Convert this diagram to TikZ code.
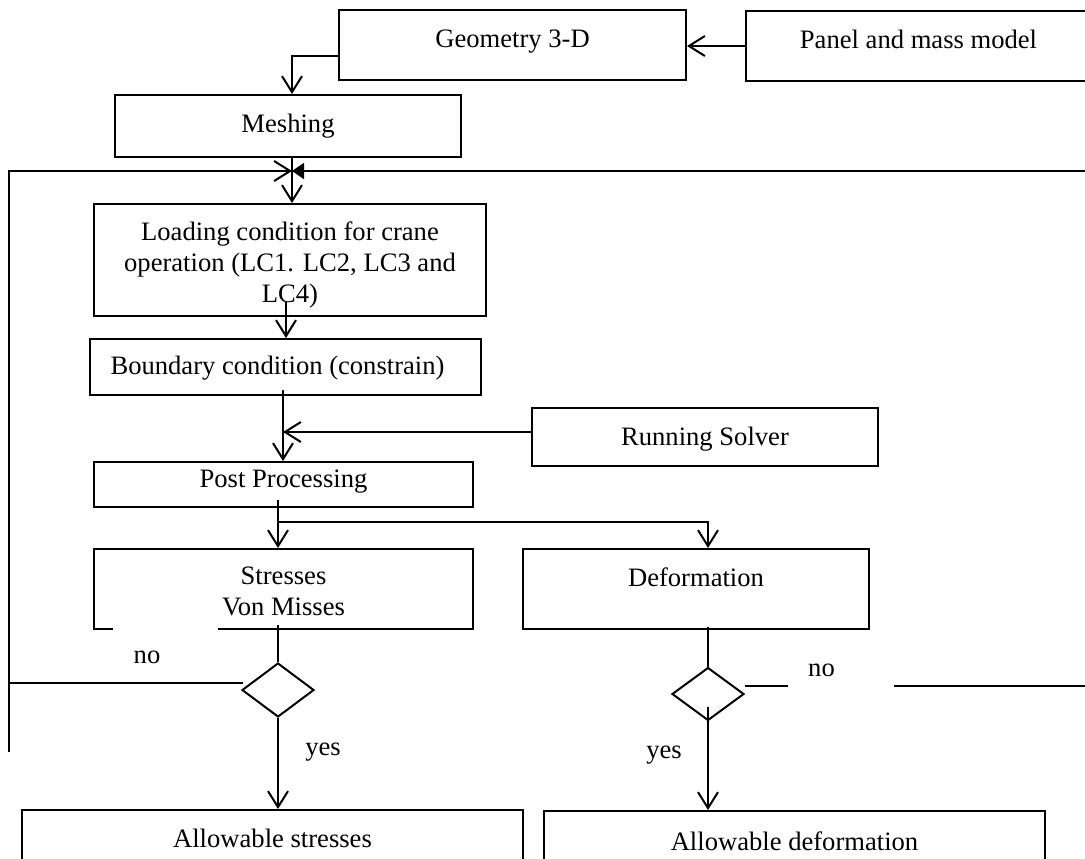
\documentclass[tikz,border=0pt]{standalone}
\usepackage{fontspec}
\setmainfont{Liberation Serif}
\usetikzlibrary{arrows.meta,shapes.geometric,calc}
\newcommand\stackedtext[2]{\raisebox{#1}[\height][\depth]{\begin{tabular}{@{}c@{}}#2\end{tabular}}}
\begin{document}
\begin{tikzpicture}[x=0.5pt,y=-0.5pt,
  every node/.style={font=\fontsize{13.3pt}{15.5pt}\selectfont},
  box/.style={draw, line width=1pt, rectangle, inner sep=0pt, align=center},
  one/.style={text height=8.8pt, text depth=2.9pt},
  dia/.style={draw, line width=1pt, diamond, inner sep=0pt},
  conn/.style={line width=1pt},
  arr/.style={conn, -{Straight Barb[length=8pt,width=10pt]}},
  tri/.style={conn, -{Triangle[length=6pt,width=8pt]}},
  lbl/.style={inner sep=0pt}]
\useasboundingbox (0,0) rectangle (1085,858);
\clip (0,0) rectangle (1085,858);

% boxes
\node[box,one,text depth=6.3pt,minimum width=173.5pt,minimum height=35pt] (geo) at (512.5,45) {Geometry 3-D};
\node[box,one,text depth=6.8pt,minimum width=172.5pt,minimum height=35pt] (panel) at (918.5,46) {Panel and mass model};
\node[box,one,text depth=2.8pt,minimum width=173pt,minimum height=31pt] (mesh) at (288,126) {Meshing};
\node[box,minimum width=196pt,minimum height=56pt] (load) at (290,260) {\stackedtext{-2.4pt}{Loading condition for crane\\operation (LC1. LC2, LC3 and\\LC4)}};
\node[box,one,text depth=1.3pt,minimum width=195.5pt,minimum height=28pt] (bound) at (285.5,367) {Boundary condition (constrain)\hspace*{8pt}};
\node[box,one,text depth=0.3pt,minimum width=173pt,minimum height=29pt] (solver) at (705,437) {Running Solver};
\node[box,one,text depth=6.3pt,minimum width=189.5pt,minimum height=22.5pt] (post) at (283.5,484.5) {Post Processing};
\node[box,minimum width=189.5pt,minimum height=40pt] (stress) at (283.5,589) {\stackedtext{-2.15pt}{Stresses\\Von Misses}};
\node[box,one,text depth=11.4pt,minimum width=173pt,minimum height=40pt] (deform) at (696,589) {Deformation};
\node[dia,minimum width=36pt,minimum height=27pt] (dS) at (278,690) {};
\node[dia,minimum width=36pt,minimum height=26.5pt] (dD) at (708,694) {};
\node[box,one,text depth=6.8pt,minimum width=250.5pt,minimum height=35pt] (allowS) at (272.5,845) {Allowable stresses};
\node[box,one,text depth=4.2pt,minimum width=250.5pt,minimum height=35pt] (allowD) at (794.5,846) {Allowable deformation};

% gap in the bottom edge of the stresses box
\draw[white, line width=2pt] ($(stress.south west)+(20,0)$) -- ($(stress.south west)+(125,0)$);

% labels
\node[lbl] (no1) at (147,657) {no};
\node[lbl] (no2) at (821.5,670.5) {no};
\node[lbl] (yes1) at (323,752) {yes};
\node[lbl] (yes2) at (664,755) {yes};

% coordinates
\coordinate (j) at (292,171);
\coordinate (lt) at (9,171);
\coordinate (lb) at (9,752);
\coordinate (nl) at (9,683);
\coordinate (rt) at (1090,171);
\coordinate (nr1) at (788,686);
\coordinate (nr2) at (894,686);
\coordinate (nr3) at (1090,686);

% connectors
\draw[arr] (panel.west) -- (panel.west -| geo.east);
\draw[arr] ($(geo.west)+(0,11)$) -| ($(mesh.north)+(4,0)$);
\draw[arr] (mesh.south -| j) -- (load.north -| j);
\draw[arr] (lb) -- (lt) -- (j);
\draw[tri] (rt) -- (j);
\path ($(load.south)+(-4,-15)$) coordinate (a1);
\draw[arr] (a1) -- (a1 |- bound.north);
\path ($(bound.south)+(-2.5,-6)$) coordinate (a2);
\draw[arr] (a2) -- (a2 |- post.north);
\path ($(solver.west)+(0,-5)$) coordinate (a3);
\draw[arr] (a3) -- (a3 -| a2);
\path ($(post.south)+(-5.5,-8)$) coordinate (a4);
\draw[arr] (a4) -- (a4 |- stress.north);
\draw[arr] ($(a4)+(-1.5,22)$) -| ($(deform.north)+(12,0)$);
\draw[conn] ($(dS.north |- stress.south)+(0,-5)$) -- (dS.north);
\draw[arr] (dS.south) -- (dS.south |- allowS.north);
\draw[conn] ($(dS.west)+(2,-7)$) -- (nl);
\draw[conn] ($(dD.north |- deform.south)+(0,-3)$) -- (dD.north);
\draw[arr] ($(dD.south)+(0,-15)$) -- (dD.south |- allowD.north);
\draw[conn] ($(dD.east)+(0,-8)$) -- (nr1);
\draw[conn] (nr2) -- (nr3);
\end{tikzpicture}
\end{document}
